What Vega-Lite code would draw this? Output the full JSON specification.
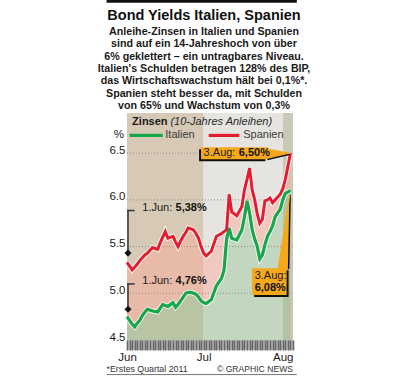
{
  "$schema": "https://vega.github.io/schema/vega-lite/v6.json",
  "width": 166,
  "height": 227,
  "autosize": {"type": "none"},
  "padding": {"left": 127, "top": 113, "right": 111, "bottom": 38},
  "background": "white",
  "title": {
    "text": "Bond Yields Italien, Spanien",
    "subtitle": [
      "Anleihe-Zinsen in Italien und Spanien",
      "sind auf ein 14-Jahreshoch von über",
      "6% geklettert – ein untragbares Niveau.",
      "Italien's Schulden betragen 128% des BIP,",
      "das Wirtschaftswachstum hält bei 0,1%*.",
      "Spanien steht besser da, mit Schulden",
      "von 65% und Wachstum von 0,3%"
    ],
    "anchor": "middle",
    "frame": "group",
    "dx": -6,
    "offset": -112,
    "font": "Liberation Sans",
    "fontSize": 14.5,
    "fontWeight": "bold",
    "color": "#111111",
    "subtitleFont": "Liberation Sans",
    "subtitleFontSize": 10.7,
    "subtitleFontWeight": "bold",
    "subtitleColor": "#1a1a1a",
    "subtitleLineHeight": 12.3,
    "subtitlePadding": 3.5
  },
  "resolve": {"axis": {"x": "independent", "y": "independent"}},
  "datasets": {
    "yields": [
      {"date": "2011-06-01", "es": 5.33, "it": 4.75},
      {"date": "2011-06-03", "es": 5.25, "it": 4.67},
      {"date": "2011-06-04", "es": 5.28, "it": 4.64},
      {"date": "2011-06-05", "es": 5.31, "it": 4.68},
      {"date": "2011-06-06", "es": 5.35, "it": 4.71},
      {"date": "2011-06-07", "es": 5.38, "it": 4.76},
      {"date": "2011-06-08", "es": 5.41, "it": 4.80},
      {"date": "2011-06-09", "es": 5.43, "it": 4.83},
      {"date": "2011-06-11", "es": 5.49, "it": 4.81},
      {"date": "2011-06-13", "es": 5.47, "it": 4.80},
      {"date": "2011-06-14", "es": 5.54, "it": 4.84},
      {"date": "2011-06-15", "es": 5.60, "it": 4.88},
      {"date": "2011-06-16", "es": 5.66, "it": 4.87},
      {"date": "2011-06-17", "es": 5.59, "it": 4.86},
      {"date": "2011-06-19", "es": 5.61, "it": 4.90},
      {"date": "2011-06-20", "es": 5.55, "it": 4.85},
      {"date": "2011-06-21", "es": 5.50, "it": 4.88},
      {"date": "2011-06-22", "es": 5.56, "it": 4.92},
      {"date": "2011-06-23", "es": 5.61, "it": 4.96},
      {"date": "2011-06-24", "es": 5.65, "it": 5.00},
      {"date": "2011-06-25", "es": 5.70, "it": 5.01},
      {"date": "2011-06-26", "es": 5.69, "it": 5.01},
      {"date": "2011-06-27", "es": 5.68, "it": 5.00},
      {"date": "2011-06-28", "es": 5.64, "it": 4.99},
      {"date": "2011-06-29", "es": 5.59, "it": 4.96},
      {"date": "2011-06-30", "es": 5.50, "it": 4.92},
      {"date": "2011-07-01", "es": 5.43, "it": 4.90},
      {"date": "2011-07-02", "es": 5.40, "it": 4.89},
      {"date": "2011-07-04", "es": 5.45, "it": 4.93},
      {"date": "2011-07-06", "es": 5.61, "it": 5.08},
      {"date": "2011-07-08", "es": 5.64, "it": 5.16},
      {"date": "2011-07-09", "es": 5.66, "it": 5.25},
      {"date": "2011-07-10", "es": 5.68, "it": 5.58},
      {"date": "2011-07-11", "es": 6.06, "it": 5.70},
      {"date": "2011-07-12", "es": 5.87, "it": 5.59},
      {"date": "2011-07-14", "es": 5.83, "it": 5.57},
      {"date": "2011-07-16", "es": 5.93, "it": 5.68},
      {"date": "2011-07-17", "es": 6.11, "it": 5.82},
      {"date": "2011-07-18", "es": 6.22, "it": 5.99},
      {"date": "2011-07-19", "es": 6.34, "it": 5.86},
      {"date": "2011-07-20", "es": 6.11, "it": 5.68},
      {"date": "2011-07-21", "es": 6.00, "it": 5.58},
      {"date": "2011-07-22", "es": 5.85, "it": 5.50},
      {"date": "2011-07-23", "es": 5.75, "it": 5.37},
      {"date": "2011-07-24", "es": 5.79, "it": 5.41},
      {"date": "2011-07-25", "es": 5.99, "it": 5.52},
      {"date": "2011-07-26", "es": 6.00, "it": 5.61},
      {"date": "2011-07-27", "es": 6.02, "it": 5.66},
      {"date": "2011-07-28", "es": 5.97, "it": 5.72},
      {"date": "2011-07-29", "es": 6.00, "it": 5.82},
      {"date": "2011-07-31", "es": 6.06, "it": 5.90},
      {"date": "2011-08-01", "es": 6.12, "it": 6.00},
      {"date": "2011-08-02", "es": 6.22, "it": 6.07},
      {"date": "2011-08-04", "es": 6.50, "it": 6.10}
    ],
    "bands": [
      {"m": "jun", "a": "2011-06-01", "b": "2011-07-01"},
      {"m": "jul", "a": "2011-07-01", "b": "2011-08-01"},
      {"m": "aug", "a": "2011-08-01", "b": "2011-08-05"}
    ],
    "grid": [{"g": 6.5}, {"g": 6.0}, {"g": 5.5}, {"g": 5.0}],
    "brackets": [
      {"d": "2011-06-01", "d2": "2011-06-04", "top": 5.886, "bot": 5.43},
      {"d": "2011-06-01", "d2": "2011-06-04", "top": 5.10, "bot": 4.83}
    ],
    "diamonds": [{"d": "2011-06-01", "v": 5.43}, {"d": "2011-06-01", "v": 4.83}],
    "boxes": [
      {"id": "es", "a": "2011-06-30", "b": "2011-07-26", "lo": 6.434, "hi": 6.564},
      {"id": "it", "a": "2011-07-20", "b": "2011-08-02T12:00:00Z", "lo": 4.983, "hi": 5.269}
    ],
    "wedgeEs": [
      {"d": "2011-07-26", "hi": 6.55, "lo": 6.44},
      {"d": "2011-08-03T20:00:00Z", "hi": 6.505, "lo": 6.497}
    ],
    "wedgeIt": [
      {"v": 5.26, "l": "2011-07-30", "r": "2011-08-03"},
      {"v": 6.06, "l": "2011-08-03T10:00:00Z", "r": "2011-08-03T14:00:00Z"}
    ],
    "legend": [
      {"s": "it", "a": "2011-06-02", "b": "2011-06-15", "v": 6.69},
      {"s": "es", "a": "2011-07-03", "b": "2011-07-15", "v": 6.69}
    ],
    "texts": [
      {"k": "hb", "d": "2011-06-03", "v": 6.83, "t": "Zinsen"},
      {"k": "hi", "d": "2011-06-18", "v": 6.83, "t": "(10-Jahres Anleihen)"},
      {"k": "lg", "d": "2011-06-16", "v": 6.69, "t": "Italien"},
      {"k": "lg", "d": "2011-07-16T12:00:00Z", "v": 6.69, "t": "Spanien"},
      {"k": "pc", "d": "2011-06-01", "v": 6.69, "t": "%"},
      {"k": "n", "d": "2011-06-07", "v": 5.91, "t": "1.Jun:"},
      {"k": "b", "d": "2011-06-20", "v": 5.91, "t": "5,38%"},
      {"k": "n", "d": "2011-06-07", "v": 5.136, "t": "1.Jun:"},
      {"k": "b", "d": "2011-06-20", "v": 5.136, "t": "4,76%"},
      {"k": "n", "d": "2011-07-01", "v": 6.50, "t": "3.Aug:"},
      {"k": "b", "d": "2011-07-14T18:00:00Z", "v": 6.50, "t": "6,50%"},
      {"k": "n", "d": "2011-07-21", "v": 5.186, "t": "3.Aug:"},
      {"k": "b", "d": "2011-07-21", "v": 5.055, "t": "6,08%"},
      {"k": "f", "d": "2011-05-24", "v": 4.19, "t": "*Erstes Quartal 2011"},
      {"k": "fr", "d": "2011-08-05", "v": 4.19, "t": "© GRAPHIC NEWS"}
    ],
    "deco": [
      {"k": "top", "a": "2011-05-24", "b": "2011-08-06T12:00:00Z", "v": 8.127, "v2": 8.127},
      {"k": "foot", "a": "2011-05-24", "b": "2011-08-06T12:00:00Z", "v": 4.13, "v2": 4.13},
      {"k": "band", "a": "2011-06-01", "b": "2011-08-05", "v": 4.5, "v2": 4.393}
    ]
  },
  "layer": [
    {
      "data": {"name": "bands"},
      "mark": {"type": "rect"},
      "encoding": {
        "x": {
          "field": "a", "type": "temporal",
          "scale": {"type": "utc", "domain": [1306886400000, 1312502400000]},
          "axis": {
            "orient": "bottom", "zindex": 1,
            "title": null, "domain": false, "grid": false,
            "tickCount": {"interval": "day", "step": 1},
            "tickSize": 10, "tickWidth": 1.6, "tickColor": "#666666",
            "labelExpr": "utcdate(datum.value) === 1 ? utcFormat(datum.value, '%b') : ''",
            "labelOverlap": false, "labelFlush": false, "labelPadding": 1,
            "labelFont": "Liberation Sans", "labelFontSize": 11.5, "labelColor": "#1a1a1a"
          }
        },
        "x2": {"field": "b"},
        "color": {
          "field": "m", "type": "nominal", "legend": null,
          "scale": {"domain": ["jun", "jul", "aug", "it", "es"], "range": ["#d6cab6", "#e5e4e0", "#cbc8b6", "#18a64a", "#e21d2f"]}
        }
      }
    },
    {
      "data": {"name": "deco"},
      "transform": [{"filter": "datum.k === 'band'"}],
      "mark": {"type": "rect", "color": "#bcbcbc"},
      "encoding": {
        "x": {"field": "a", "type": "temporal", "axis": null},
        "x2": {"field": "b"},
        "y": {"field": "v", "type": "quantitative", "axis": null},
        "y2": {"field": "v2"}
      }
    },
    {
      "data": {"name": "yields"},
      "mark": {"type": "area", "color": "#7fb87f", "opacity": 0.33},
      "encoding": {
        "x": {"field": "date", "type": "temporal", "axis": null},
        "y": {
          "field": "it", "type": "quantitative",
          "scale": {"domain": [4.5, 6.93], "nice": false, "zero": false},
          "axis": {
            "orient": "left",
            "title": null, "domain": false, "ticks": false, "grid": false,
            "values": [4.5, 5.0, 5.5, 6.0, 6.5], "format": ".1f",
            "labelFont": "Liberation Sans", "labelFontSize": 11.5, "labelColor": "#1a1a1a",
            "labelPadding": 2, "labelBaseline": "alphabetic"
          }
        },
        "y2": {"datum": 4.5}
      }
    },
    {
      "data": {"name": "yields"},
      "mark": {"type": "area", "color": "#ffa898", "opacity": 0.45},
      "encoding": {
        "x": {"field": "date", "type": "temporal", "axis": null},
        "y": {"field": "it", "type": "quantitative", "axis": null},
        "y2": {"field": "es"}
      }
    },
    {
      "data": {"name": "grid"},
      "mark": {"type": "rule", "color": "#8c8c8c", "strokeWidth": 1, "strokeDash": [1, 2]},
      "encoding": {"y": {"field": "g", "type": "quantitative", "axis": null}}
    },
    {
      "data": {"name": "yields"},
      "mark": {"type": "line", "color": "white", "strokeWidth": 5, "opacity": 0.8},
      "encoding": {
        "x": {"field": "date", "type": "temporal", "axis": null},
        "y": {"field": "it", "type": "quantitative", "axis": null}
      }
    },
    {
      "data": {"name": "yields"},
      "mark": {"type": "line", "color": "white", "strokeWidth": 5, "opacity": 0.8},
      "encoding": {
        "x": {"field": "date", "type": "temporal", "axis": null},
        "y": {"field": "es", "type": "quantitative", "axis": null}
      }
    },
    {
      "data": {"name": "yields"},
      "mark": {"type": "line", "color": "#18a64a", "strokeWidth": 3.2},
      "encoding": {
        "x": {"field": "date", "type": "temporal", "axis": null},
        "y": {"field": "it", "type": "quantitative", "axis": null}
      }
    },
    {
      "data": {"name": "yields"},
      "mark": {"type": "line", "color": "#e21d2f", "strokeWidth": 3},
      "encoding": {
        "x": {"field": "date", "type": "temporal", "axis": null},
        "y": {"field": "es", "type": "quantitative", "axis": null}
      }
    },
    {
      "data": {"name": "brackets"},
      "mark": {"type": "rule", "color": "#333333", "strokeWidth": 1.5, "xOffset": 1},
      "encoding": {
        "x": {"field": "d", "type": "temporal", "axis": null},
        "y": {"field": "top", "type": "quantitative", "axis": null},
        "y2": {"field": "bot"}
      }
    },
    {
      "data": {"name": "brackets"},
      "mark": {"type": "rule", "color": "#333333", "strokeWidth": 1.5},
      "encoding": {
        "x": {"field": "d", "type": "temporal", "axis": null},
        "x2": {"field": "d2"},
        "y": {"field": "top", "type": "quantitative", "axis": null}
      }
    },
    {
      "data": {"name": "diamonds"},
      "mark": {"type": "point", "shape": "diamond", "filled": true, "color": "#111111", "size": 50, "opacity": 1, "xOffset": 1},
      "encoding": {
        "x": {"field": "d", "type": "temporal", "axis": null},
        "y": {"field": "v", "type": "quantitative", "axis": null}
      }
    },
    {
      "data": {"name": "wedgeIt"},
      "mark": {"type": "area", "orient": "horizontal", "color": "#111111", "xOffset": 1.5, "x2Offset": 1.5},
      "encoding": {
        "y": {"field": "v", "type": "quantitative", "axis": null},
        "x": {"field": "l", "type": "temporal", "axis": null},
        "x2": {"field": "r"}
      }
    },
    {
      "data": {"name": "wedgeEs"},
      "mark": {"type": "area", "color": "#111111", "yOffset": 1.5, "y2Offset": 1.5},
      "encoding": {
        "x": {"field": "d", "type": "temporal", "axis": null},
        "y": {"field": "hi", "type": "quantitative", "axis": null},
        "y2": {"field": "lo"}
      }
    },
    {
      "data": {"name": "boxes"},
      "transform": [{"filter": "datum.id === 'es'"}],
      "mark": {"type": "rect", "color": "#111111", "xOffset": -2, "x2Offset": -2, "yOffset": 2, "y2Offset": 2},
      "encoding": {
        "x": {"field": "a", "type": "temporal", "axis": null},
        "x2": {"field": "b"},
        "y": {"field": "hi", "type": "quantitative", "axis": null},
        "y2": {"field": "lo"}
      }
    },
    {
      "data": {"name": "boxes"},
      "transform": [{"filter": "datum.id === 'it'"}],
      "mark": {"type": "rect", "color": "#111111", "xOffset": 2, "x2Offset": 2, "yOffset": 2, "y2Offset": 2},
      "encoding": {
        "x": {"field": "a", "type": "temporal", "axis": null},
        "x2": {"field": "b"},
        "y": {"field": "hi", "type": "quantitative", "axis": null},
        "y2": {"field": "lo"}
      }
    },
    {
      "data": {"name": "wedgeIt"},
      "mark": {"type": "area", "orient": "horizontal", "color": "#f6a81c"},
      "encoding": {
        "y": {"field": "v", "type": "quantitative", "axis": null},
        "x": {"field": "l", "type": "temporal", "axis": null},
        "x2": {"field": "r"}
      }
    },
    {
      "data": {"name": "wedgeEs"},
      "mark": {"type": "area", "color": "#f6a81c"},
      "encoding": {
        "x": {"field": "d", "type": "temporal", "axis": null},
        "y": {"field": "hi", "type": "quantitative", "axis": null},
        "y2": {"field": "lo"}
      }
    },
    {
      "data": {"name": "boxes"},
      "mark": {"type": "rect", "color": "#f6a81c"},
      "encoding": {
        "x": {"field": "a", "type": "temporal", "axis": null},
        "x2": {"field": "b"},
        "y": {"field": "hi", "type": "quantitative", "axis": null},
        "y2": {"field": "lo"}
      }
    },
    {
      "data": {"name": "legend"},
      "mark": {"type": "rule", "strokeWidth": 3.2},
      "encoding": {
        "x": {"field": "a", "type": "temporal", "axis": null},
        "x2": {"field": "b"},
        "y": {"field": "v", "type": "quantitative", "axis": null},
        "color": {"field": "s", "type": "nominal", "legend": null}
      }
    },
    {
      "data": {"name": "deco"},
      "transform": [{"filter": "datum.k === 'top'"}],
      "mark": {"type": "rule", "color": "#111111", "strokeWidth": 3},
      "encoding": {
        "x": {"field": "a", "type": "temporal", "axis": null},
        "x2": {"field": "b"},
        "y": {"field": "v", "type": "quantitative", "axis": null}
      }
    },
    {
      "data": {"name": "deco"},
      "transform": [{"filter": "datum.k === 'foot'"}],
      "mark": {"type": "rule", "color": "#777777", "strokeWidth": 1},
      "encoding": {
        "x": {"field": "a", "type": "temporal", "axis": null},
        "x2": {"field": "b"},
        "y": {"field": "v", "type": "quantitative", "axis": null}
      }
    },
    {
      "data": {"name": "texts"},
      "transform": [{"filter": "datum.k === 'n'"}],
      "mark": {"type": "text", "align": "left", "baseline": "middle", "font": "Liberation Sans", "fontSize": 11, "color": "#1a1a1a"},
      "encoding": {
        "x": {"field": "d", "type": "temporal", "axis": null},
        "y": {"field": "v", "type": "quantitative", "axis": null},
        "text": {"field": "t"}
      }
    },
    {
      "data": {"name": "texts"},
      "transform": [{"filter": "datum.k === 'b'"}],
      "mark": {"type": "text", "align": "left", "baseline": "middle", "font": "Liberation Sans", "fontSize": 11, "fontWeight": "bold", "color": "#111111"},
      "encoding": {
        "x": {"field": "d", "type": "temporal", "axis": null},
        "y": {"field": "v", "type": "quantitative", "axis": null},
        "text": {"field": "t"}
      }
    },
    {
      "data": {"name": "texts"},
      "transform": [{"filter": "datum.k === 'hb'"}],
      "mark": {"type": "text", "align": "left", "baseline": "middle", "font": "Liberation Sans", "fontSize": 11, "fontWeight": "bold", "color": "#1a1a1a"},
      "encoding": {
        "x": {"field": "d", "type": "temporal", "axis": null},
        "y": {"field": "v", "type": "quantitative", "axis": null},
        "text": {"field": "t"}
      }
    },
    {
      "data": {"name": "texts"},
      "transform": [{"filter": "datum.k === 'hi'"}],
      "mark": {"type": "text", "align": "left", "baseline": "middle", "font": "Liberation Sans", "fontSize": 11, "fontStyle": "italic", "color": "#2a2a2a"},
      "encoding": {
        "x": {"field": "d", "type": "temporal", "axis": null},
        "y": {"field": "v", "type": "quantitative", "axis": null},
        "text": {"field": "t"}
      }
    },
    {
      "data": {"name": "texts"},
      "transform": [{"filter": "datum.k === 'lg'"}],
      "mark": {"type": "text", "align": "left", "baseline": "middle", "font": "Liberation Sans", "fontSize": 11, "color": "#3a3a3a"},
      "encoding": {
        "x": {"field": "d", "type": "temporal", "axis": null},
        "y": {"field": "v", "type": "quantitative", "axis": null},
        "text": {"field": "t"}
      }
    },
    {
      "data": {"name": "texts"},
      "transform": [{"filter": "datum.k === 'pc'"}],
      "mark": {"type": "text", "align": "right", "baseline": "middle", "dx": -3, "font": "Liberation Sans", "fontSize": 11.5, "color": "#1a1a1a"},
      "encoding": {
        "x": {"field": "d", "type": "temporal", "axis": null},
        "y": {"field": "v", "type": "quantitative", "axis": null},
        "text": {"field": "t"}
      }
    },
    {
      "data": {"name": "texts"},
      "transform": [{"filter": "datum.k === 'f'"}],
      "mark": {"type": "text", "align": "left", "baseline": "middle", "font": "Liberation Sans", "fontSize": 8.8, "color": "#333333"},
      "encoding": {
        "x": {"field": "d", "type": "temporal", "axis": null},
        "y": {"field": "v", "type": "quantitative", "axis": null},
        "text": {"field": "t"}
      }
    },
    {
      "data": {"name": "texts"},
      "transform": [{"filter": "datum.k === 'fr'"}],
      "mark": {"type": "text", "align": "right", "baseline": "middle", "font": "Liberation Sans", "fontSize": 8.6, "color": "#333333"},
      "encoding": {
        "x": {"field": "d", "type": "temporal", "axis": null},
        "y": {"field": "v", "type": "quantitative", "axis": null},
        "text": {"field": "t"}
      }
    }
  ],
  "config": {
    "view": {"stroke": null},
    "font": "Liberation Sans"
  }
}
